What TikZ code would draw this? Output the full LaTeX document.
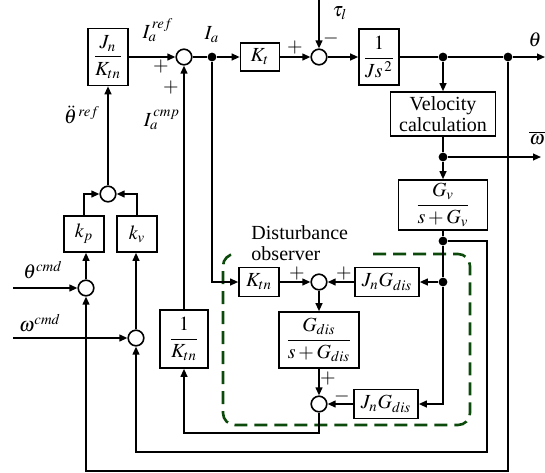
\documentclass[tikz,border=0pt]{standalone}
\usepackage{amsmath}
\usepackage{mathptmx}
\usepackage{fontspec}
\setmainfont{Liberation Serif}
\usetikzlibrary{arrows.meta, calc}

\begin{document}
\begin{tikzpicture}[x=0.5pt, y=-0.5pt, line width=0.8pt,
    font=\fontsize{10}{10.5}\selectfont,
    block/.style={draw, line width=0.8pt, inner sep=0.5pt, align=center},
    sumnode/.style={circle, draw, minimum size=7.8pt, inner sep=0pt},
    dotnode/.style={circle, fill, minimum size=4.4pt, inner sep=0pt},
    conn/.style={-{Triangle[length=4pt, width=3.4pt]}},
    sign/.style={inner sep=0pt}]
    % Colours
    \definecolor{obsGreen}{HTML}{0B4A0B}

    % Fix the picture size
    \useasboundingbox (0,0) rectangle (545,472);

    % Plant (top row)
    \node[block, minimum width=20pt, minimum height=28.5pt] (JK) at (108,57) {$\dfrac{J_n}{K_{tn}}$};
    \node[sumnode] (s1) at (184,57) {};
    \node[dotnode] (dIa) at (212,57) {};
    \node[block, minimum width=19.5pt, minimum height=14pt] (Kt) at (260,57) {$K_t$};
    \node[sumnode] (s2) at (319,57) {};
    \node[block, minimum width=20pt, minimum height=28pt] (Js) at (379,57) {$\dfrac{1}{Js^{\,2}}$};
    \node[dotnode] (dT1) at (443,57) {};
    \node[dotnode] (dT2) at (508,57) {};
    \coordinate (thOut) at (545,57);
    \coordinate (tauIn) at (319,0);

    % Velocity path
    \node[block, minimum width=52.5pt, minimum height=22pt] (Vel) at (443,114) {Velocity\\calculation};
    \node[dotnode] (dW) at (443,157) {};
    \coordinate (wOut) at (541,157);
    \node[block, minimum width=44.5pt, minimum height=25pt] (Gv) at (443,205) {$\dfrac{G_v}{s+G_v}$};
    \node[dotnode] (dG1) at (443,241) {};
    \node[dotnode] (dG2) at (443,282) {};

    % Position and velocity controller
    \node[sumnode] (s3) at (108,194) {};
    \node[block, minimum width=20pt, minimum height=18pt] (kp) at (84,234) {$k_p$};
    \node[block, minimum width=20pt, minimum height=18pt] (kv) at (137,234) {$k_v$};
    \node[sumnode] (s4) at (86,288) {};
    \node[sumnode] (s5) at (136,338) {};
    \coordinate (thIn) at (13,288);
    \coordinate (wIn) at (13,338);

    % Disturbance observer
    \node[block, minimum width=20pt, minimum height=14.5pt] (Ktn) at (259,282) {$K_{tn}$};
    \node[sumnode] (o1) at (319,282) {};
    \node[block, minimum width=32pt, minimum height=14.5pt] (JG1) at (387,282) {$J_nG_{dis}$};
    \node[block, minimum width=40pt, minimum height=28pt] (Gd) at (319,340) {$\dfrac{G_{dis}}{s+G_{dis}}$};
    \node[sumnode] (o2) at (319,404) {};
    \node[block, minimum width=32pt, minimum height=14.5pt] (JG2) at (386,404) {$J_nG_{dis}$};
    \node[block, minimum width=24pt, minimum height=29pt] (invK) at (184,339) {$\dfrac{1}{K_{tn}}$};

    % Observer frame
    \draw[obsGreen, line width=1.3pt, dash pattern=on 6.5pt off 3.5pt, rounded corners=6pt]
        (373,254) -- (470,254) -- (470,425) -- (223,425) -- (223,254) -- (238,254);

    % Forward path
    \draw[conn] (JK) -- (s1);
    \draw (s1) -- (dIa);
    \draw[conn] (dIa) -- (Kt);
    \draw[conn] (Kt) -- (s2);
    \draw[conn] (tauIn) -- (s2);
    \draw[conn] (s2) -- (Js);
    \draw (Js) -- (dT1) -- (dT2);
    \draw[conn] (dT2) -- (thOut);
    \draw[conn] (dT1) -- (Vel);
    \draw (Vel) -- (dW);
    \draw[conn] (dW) -- (wOut);
    \draw[conn] (dW) -- (Gv);
    \draw (Gv) -- (dG1) -- (dG2);

    % Observer connections
    \draw[conn] (dG2) -- (JG1);
    \draw[conn] (dG2) |- (JG2);
    \draw[conn] (dIa) |- (Ktn);
    \draw[conn] (Ktn) -- (o1);
    \draw[conn] (JG1) -- (o1);
    \draw[conn] (o1) -- (Gd);
    \draw[conn] (Gd) -- (o2);
    \draw[conn] (JG2) -- (o2);
    \draw[conn] (o2) -- (319,433) -| (invK);
    \draw[conn] (invK) -- (s1);

    % Feedback loops
    \draw[conn] (dG1) -| (487,452) -| (s5);
    \draw[conn] (dT2) -- (508,471) -| (s4);

    % Controller connections
    \draw[conn] (thIn) -- (s4);
    \draw[conn] (wIn) -- (s5);
    \draw[conn] (s4) -- (s4 |- kp.south);
    \draw[conn] (s5) -- (s5 |- kv.south);
    \draw[conn] (kp) |- (s3);
    \draw[conn] (kv) |- (s3);
    \draw[conn] (s3) -- (JK);

    % Labels
    \node (lIaref) at (158,30) {$I_a^{\,ref}$};
    \node (lIa) at (212,35) {$I_a$};
    \node (lIacmp) at (162,120) {$I_a^{\,cmp}$};
    \node (lthref) at (82,115) {$\ddot{\theta}^{\,ref}$};
    \node (ltau) at (340,13) {$\tau_l$};
    \node (lth) at (535,40) {$\theta$};
    \node (lw) at (537,138) {$\overline{\omega}$};
    \node (lthcmd) at (43,270) {$\theta^{cmd}$};
    \node (lwcmd) at (40,323) {$\omega^{cmd}$};
    \node[align=left, anchor=west] (lobs) at (244,243) {Disturbance\\observer};

    % Signs
    \node[sign] (p1) at (161,67) {$+$};
    \node[sign] (p2) at (171,87) {$+$};
    \node[sign] (p3) at (295,47) {$+$};
    \node[sign] (m1) at (331,38) {$-$};
    \node[sign] (p4) at (297,273) {$+$};
    \node[sign] (p5) at (344,273) {$+$};
    \node[sign] (p6) at (328,378) {$+$};
    \node[sign] (m2) at (342,396) {$-$};
\end{tikzpicture}
\end{document}
